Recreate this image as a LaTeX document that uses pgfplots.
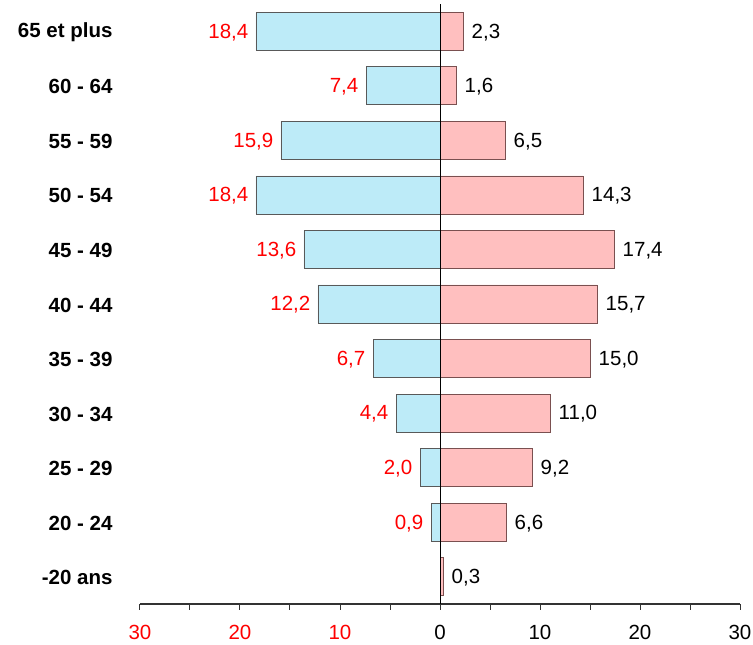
\documentclass[border=0pt]{standalone}
\usepackage{pgfplots}
\pgfplotsset{compat=1.18}
\usepackage{pgfplotstable}
\usepackage{fontspec}
\setmainfont{Liberation Sans}
\definecolor{barblue}{HTML}{BDEBF8}
\definecolor{barpink}{HTML}{FFBFBF}
\definecolor{pinkedge}{HTML}{7A5050}
\newcommand{\lbl}{\fontsize{20.5}{24}\selectfont}
\pgfplotstableread{
y v
1 0.9
2 2.0
3 4.4
4 6.7
5 12.2
6 13.6
7 18.4
8 15.9
9 7.4
10 18.4
}\negdata
\pgfplotstableread{
y v
0 0.3
1 6.6
2 9.2
3 11.0
4 15.0
5 15.7
6 17.4
7 14.3
8 6.5
9 1.6
10 2.3
}\posdata
\begin{document}
\begin{tikzpicture}
\begin{axis}[
  scale only axis, width=600pt, height=600pt,
  anchor=south west, at={(0pt,0pt)},
  xmin=-30, xmax=30, ymin=-0.5, ymax=10.5,
  axis x line*=bottom, axis y line*=left,
  y axis line style={draw=none},
  x axis line style={line width=1.2pt, color=black!80},
  xtick={-30,-20,...,30},
  xticklabels={\textcolor{red}{30},\textcolor{red}{20},\textcolor{red}{10},0,10,20,30},
  minor xtick={-25,-15,-5,5,15,25},
  tick align=outside,
  major tick length=6pt, minor tick length=6pt,
  xtick style={line width=1pt, color=black!80},
  ytick={0,...,10},
  yticklabels={-20 ans,20 - 24,25 - 29,30 - 34,35 - 39,40 - 44,45 - 49,50 - 54,55 - 59,60 - 64,65 et plus},
  ytick style={draw=none},
  yticklabel style={font=\lbl\bfseries, xshift=-18pt, yshift=-1pt},
  xticklabel style={font=\lbl, inner ysep=0.5pt, yshift=-14pt},
  /pgf/number format/.cd, fixed, fixed zerofill, precision=1, use comma, assume math mode=true, /pgfplots/.cd,
  xbar, bar width=38pt, bar shift=0pt,
  clip=false,
]
\addplot[fill=barblue, draw=black!65, line width=0.8pt,
  point meta=explicit, nodes near coords,
  nodes near coords style={font=\lbl, text=red, anchor=east, xshift=-4pt, yshift=-1pt}]
  table[x expr=-\thisrow{v}, y=y, meta=v] {\negdata};
\addplot[fill=barpink, draw=pinkedge, line width=0.8pt,
  point meta=explicit, nodes near coords,
  nodes near coords style={font=\lbl, text=black, anchor=west, xshift=5pt, yshift=-1pt}]
  table[x=v, y=y, meta=v] {\posdata};
\addplot[sharp plot, black, line width=0.9pt, mark=none] coordinates {(0,-0.5) (0,10.5)};
\end{axis}
\pgfresetboundingbox
\path (-140pt,-41pt) rectangle (613pt,604pt);
\end{tikzpicture}
\end{document}
